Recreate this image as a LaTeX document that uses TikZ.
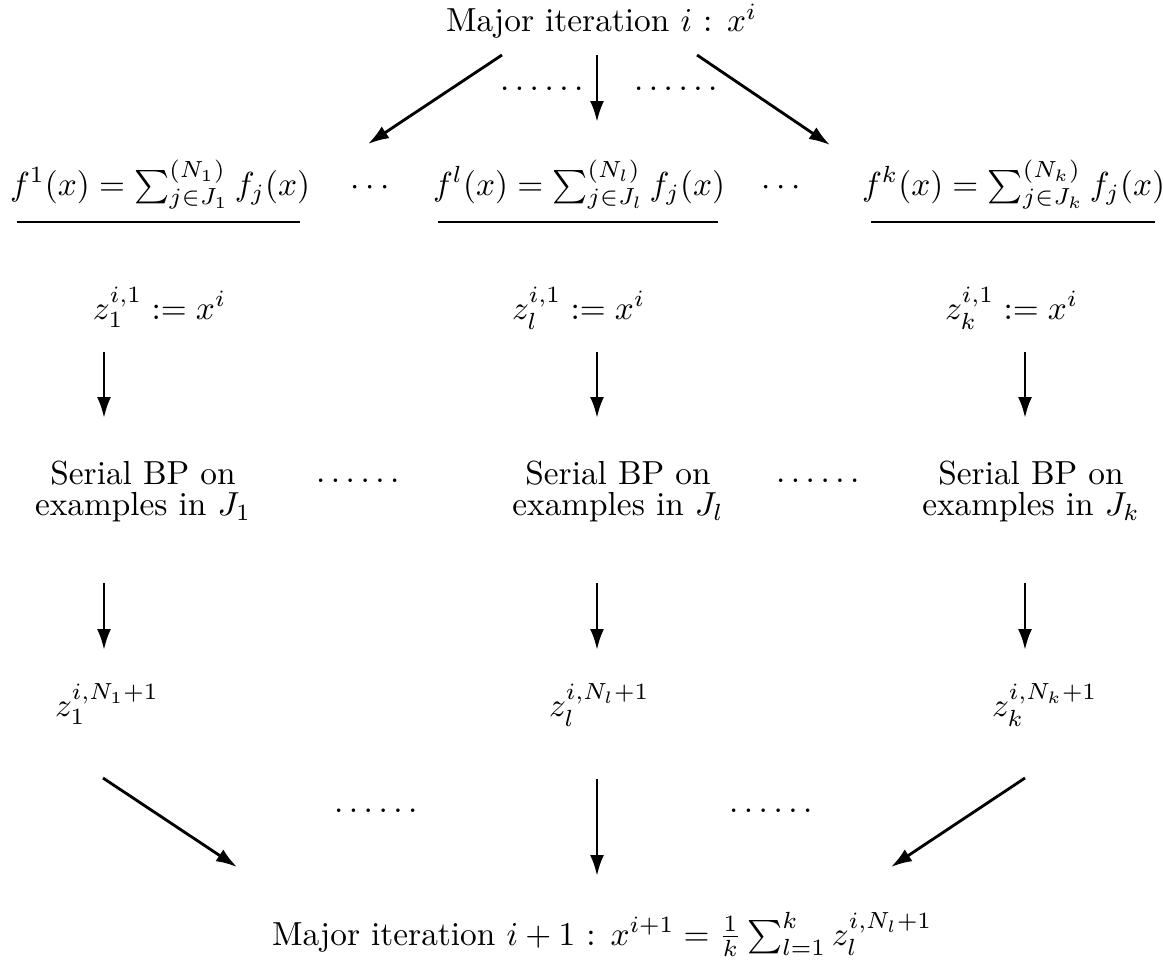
\documentclass[tikz,border=0pt]{standalone}
\usetikzlibrary{arrows.meta}
\newcommand{\sixdots}{.\kern1.67pt.\kern1.67pt.\kern1.67pt.\kern1.67pt.\kern1.67pt.}
\begin{document}
\begin{tikzpicture}[x=0.3pt,y=-0.3pt,
  mtxt/.style={inner sep=0pt, outer sep=0pt, anchor=base west},
  ptxt/.style={inner sep=0pt, outer sep=0pt, anchor=base west},
  stxt/.style={inner sep=0pt, outer sep=0pt, anchor=base, align=center, font=\fontsize{10pt}{9.3pt}\selectfont},
  arr/.style={line width=0.85pt, -{Latex[length=6.3pt,width=4.2pt]}},
  urule/.style={line width=0.55pt}]
\fill[white] (0,0) rectangle (1163,966);
\useasboundingbox (0,0) rectangle (1163,966);
% top
\node[mtxt] (top) at (446,32) {Major iteration $i$ : $x^i$};
\node[ptxt] (td1) at (500,90) {\sixdots};
\node[ptxt] (td2) at (634,90) {\sixdots};
% f row
\node[mtxt] (f1) at (10,195) {$f^1(x) = \sum_{j\in J_1}^{(N_1)} f_j(x)$};
\node[mtxt] (fl) at (433,195) {$f^l(x) = \sum_{j\in J_l}^{(N_l)} f_j(x)$};
\node[mtxt] (fk) at (862,195) {$f^k(x) = \sum_{j\in J_k}^{(N_k)} f_j(x)$};
\node[inner sep=0pt, anchor=base] (fc1) at (370,195) {$\cdots$};
\node[inner sep=0pt, anchor=base] (fc2) at (781,195) {$\cdots$};
\draw[urule] (17,222) -- (300,222);
\draw[urule] (438,222) -- (718,222);
\draw[urule] (871,222) -- (1155,222);
% z row
\node[mtxt] (z1) at (93,319) {$z_1^{i,1} := x^i$};
\node[mtxt] (zl) at (512,319) {$z_l^{i,1} := x^i$};
\node[mtxt] (zk) at (945,319) {$z_k^{i,1} := x^i$};
% serial row (base anchor = baseline of last line)
\node[stxt] (s1) at (143,515) {Serial BP on\\examples in $J_1$};
\node[stxt] (sl) at (618,515) {Serial BP on\\examples in $J_l$};
\node[stxt] (sk) at (1031,515) {Serial BP on\\examples in $J_k$};
\node[ptxt] (sd1) at (316,482) {\sixdots};
\node[ptxt] (sd2) at (776,482) {\sixdots};
% z N+1 row
\node[mtxt] (n1) at (55,716) {$z_1^{i,N_1+1}$};
\node[mtxt] (nl) at (549,716) {$z_l^{i,N_l+1}$};
\node[mtxt] (nk) at (992,716) {$z_k^{i,N_k+1}$};
% bottom
\node[ptxt] (bd1) at (334,812) {\sixdots};
\node[ptxt] (bd2) at (729,812) {\sixdots};
\node[mtxt] (bot) at (272,945) {Major iteration $i+1$ : $x^{i+1} = \frac{1}{k}\sum_{l=1}^{k} z_l^{i,N_l+1}$};
% arrow end points
\coordinate (ta1) at (502,55);  \coordinate (tb1) at (368,144);
\coordinate (ta2) at (597,55);  \coordinate (tb2) at (597,122);
\coordinate (ta3) at (697,55);  \coordinate (tb3) at (830,145);
\coordinate (ua1) at (104,352); \coordinate (ub1) at (104,418);
\coordinate (ua2) at (597,352); \coordinate (ub2) at (597,418);
\coordinate (ua3) at (1025,352); \coordinate (ub3) at (1025,418);
\coordinate (va1) at (104,583); \coordinate (vb1) at (104,650);
\coordinate (va2) at (597,583); \coordinate (vb2) at (597,650);
\coordinate (va3) at (1025,583); \coordinate (vb3) at (1025,650);
\coordinate (wa1) at (103,778); \coordinate (wb1) at (237,867);
\coordinate (wa2) at (597,779); \coordinate (wb2) at (597,876);
\coordinate (wa3) at (1025,778); \coordinate (wb3) at (891,867);
\foreach \p/\q in {ta1/tb1,ta2/tb2,ta3/tb3,ua1/ub1,ua2/ub2,ua3/ub3,va1/vb1,va2/vb2,va3/vb3,wa1/wb1,wa2/wb2,wa3/wb3}
  \draw[arr] (\p) -- (\q);
\end{tikzpicture}
\end{document}
